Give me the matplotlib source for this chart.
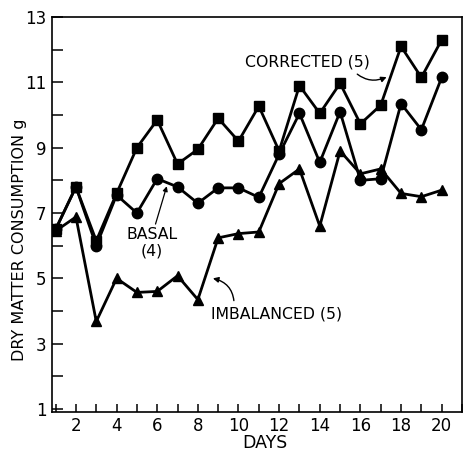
import numpy as np
import matplotlib
matplotlib.use("Agg")
import matplotlib.pyplot as plt

# values
days = np.arange(1, 21)
corrected = [6.5, 7.8, 6.15, 7.6, 9.0, 9.85, 8.5, 8.95, 9.9, 9.2,
             10.27, 8.9, 10.9, 10.05, 10.97, 9.73, 10.3, 12.1, 11.15, 12.3]
basal = [6.5, 7.8, 6.0, 7.55, 7.0, 8.05, 7.8, 7.3, 7.77, 7.77,
         7.48, 8.8, 10.05, 8.55, 10.1, 8.0, 8.05, 10.35, 9.55, 11.15]
imbalanced = [6.45, 6.88, 3.68, 5.0, 4.57, 4.6, 5.08, 4.35, 6.24, 6.37,
              6.42, 7.9, 8.35, 6.6, 8.9, 8.2, 8.35, 7.6, 7.5, 7.7]

x_major = [2, 4, 6, 8, 10, 12, 14, 16, 18, 20]
y_major = [1, 3, 5, 7, 9, 11, 13]

plt.rcParams['font.family'] = ['DejaVu Sans']

fig = plt.figure(figsize=(4.64, 4.51), dpi=100)
ax = fig.add_axes([0.112, 0.0865, 0.8837, 0.8758])

lw = 2.0
ax.plot(days, imbalanced, color='black', lw=lw, marker='^', ms=7.5)
ax.plot(days, basal, color='black', lw=lw, marker='o', ms=7.5)
ax.plot(days, corrected, color='black', lw=lw, marker='s', ms=7)

ax.set_xlim(0.82, 21)
ax.set_ylim(0.91, 13)

ax.set_xticks(x_major)
ax.set_xticks(np.arange(1, 22), minor=True)
ax.set_yticks(y_major)
ax.set_yticks(np.arange(2, 13, 2), minor=True)
ax.set_yticklabels([str(v) for v in y_major])

ax.tick_params(axis='x', which='both', direction='in', length=6, width=1.1,
               labelsize=12, pad=3.5)
ax.tick_params(axis='y', which='both', direction='in', length=8, width=1.1,
               labelsize=12, pad=4)
for s in ax.spines.values():
    s.set_linewidth(1.2)

ax.set_xlabel('DAYS', fontsize=12.5)
ax.xaxis.set_label_coords(0.52, -0.055)
ax.set_ylabel('DRY MATTER CONSUMPTION g', fontsize=11.5)
ax.yaxis.set_label_coords(-0.06, 0.435)

# labels with arrows
ax.annotate('CORRECTED (5)', xy=(17.29, 11.16), xytext=(13.39, 11.62),
            fontsize=11.3, ha='center', va='center',
            arrowprops=dict(arrowstyle='-|>', color='black', lw=1.0,
                            mutation_scale=8, shrinkA=2, shrinkB=0,
                            connectionstyle='arc3,rad=0.35',
                            relpos=(0.86, 0.0)))
ax.annotate('BASAL\n(4)', xy=(6.47, 7.82), xytext=(5.75, 6.1),
            fontsize=11.3, ha='center', va='center', linespacing=1.1,
            arrowprops=dict(arrowstyle='-|>', color='black', lw=0.9,
                            mutation_scale=7, shrinkA=0, shrinkB=0,
                            relpos=(0.55, 1.0)))
ax.annotate('IMBALANCED (5)', xy=(8.74, 5.0), xytext=(11.85, 3.92),
            fontsize=11.3, ha='center', va='center',
            arrowprops=dict(arrowstyle='-|>', color='black', lw=1.0,
                            mutation_scale=8, shrinkA=2, shrinkB=0,
                            connectionstyle='arc3,rad=0.4',
                            relpos=(0.18, 1.0)))

fig.savefig('out.png', dpi=100)
